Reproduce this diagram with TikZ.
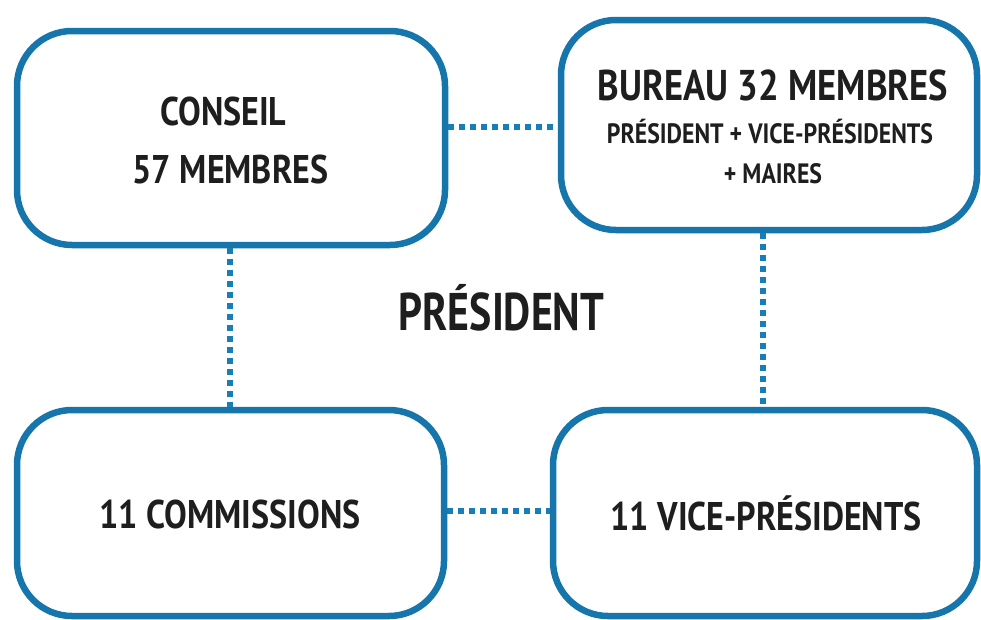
\documentclass[tikz,border=0pt]{standalone}
\usepackage{fontspec}
\newfontfamily\lbl[FakeStretch=0.85]{PT Sans}
\newfontfamily\lblmid[FakeStretch=0.79]{PT Sans}
\definecolor{boxblue}{RGB}{22,118,172}
\definecolor{dotblue}{RGB}{24,126,184}
\definecolor{ink}{RGB}{30,30,30}
\begin{document}
\begin{tikzpicture}[x=1pt,y=-1pt,
  orgbox/.style={draw=boxblue, line width=6.5pt, rounded corners=55pt, fill=white, inner sep=0pt, rectangle},
  conn/.style={draw=dotblue, line width=6pt, dash pattern=on 6pt off 5pt},
  lab/.style={text=ink, inner sep=0pt, anchor=base},
  big/.style={lab, font=\lbl\bfseries\fontsize{40}{48}\selectfont},
  bigger/.style={lab, font=\lbl\bfseries\fontsize{43}{50}\selectfont},
  small/.style={lab, font=\lbl\bfseries\fontsize{28}{32}\selectfont},
  huge/.style={lab, font=\lblmid\bfseries\fontsize{53}{60}\selectfont}]
\useasboundingbox (0,0) rectangle (981,619);
\clip (0,0) rectangle (981,619);
\fill[white] (0,0) rectangle (981,619);
% boxes
\node[orgbox, minimum width=428pt, minimum height=214pt] (conseil) at (231,138) {};
\node[orgbox, minimum width=416pt, minimum height=210pt] (bureau) at (769,125) {};
\node[orgbox, minimum width=427pt, minimum height=206pt] (comm) at (230.5,513) {};
\node[orgbox, minimum width=424pt, minimum height=206pt] (vice) at (765,513) {};
% connectors
\draw[conn] (conseil.east |- 0,127) -- (bureau.west |- 0,127);
\draw[conn] (conseil.south -| 230,0) -- (comm.north -| 230,0);
\draw[conn] (bureau.south -| 763,0) -- (vice.north -| 763,0);
\draw[conn] (comm.east |- 0,511) -- (vice.west |- 0,511);
% labels
\node[big] (t1) at (223.5,125) {CONSEIL};
\node[big] (t2) at (230.5,183) {57 MEMBRES};
\node[bigger] (t3) at (773,100) {BUREAU 32 MEMBRES};
\node[small] (t4) at (770,143) {PRÉSIDENT + VICE-PRÉSIDENTS};
\node[small] (t5) at (773,183) {+ MAIRES};
\node[huge] (t6) at (501.5,330) {PRÉSIDENT};
\node[big] (t7) at (230,528) {11 COMMISSIONS};
\node[big] (t8) at (766,530) {11 VICE-PRÉSIDENTS};
\end{tikzpicture}
\end{document}
